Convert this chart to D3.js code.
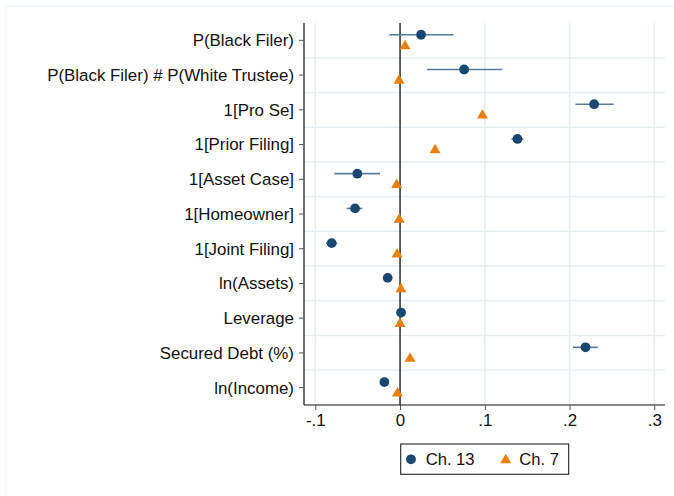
<!DOCTYPE html>
<html>
<head>
<meta charset="utf-8">
<script src="https://cdn.jsdelivr.net/npm/d3@7"></script>
<style>
html,body{margin:0;padding:0;background:#fff;}
svg{display:block;font-family:"Liberation Sans",Arial,sans-serif;}
</style>
</head>
<body>
<svg id="chart" width="674" height="496"></svg>
<script>
const categories = ["P(Black Filer)","P(Black Filer) # P(White Trustee)","1[Pro Se]","1[Prior Filing]","1[Asset Case]","1[Homeowner]","1[Joint Filing]","ln(Assets)","Leverage","Secured Debt (%)","ln(Income)"];
const ch13Est = [0.0248, 0.0756, 0.229, 0.1385, -0.0504, -0.0531, -0.0807, -0.0146, 0.0012, 0.2188, -0.0185];
const ch13Lo  = [-0.0126, 0.0319, 0.207, 0.1315, -0.0776, -0.063, -0.0872, -0.0165, 0.0004, 0.204, -0.0205];
const ch13Hi  = [0.063, 0.1208, 0.252, 0.1455, -0.0236, -0.0445, -0.0742, -0.0127, 0.002, 0.2334, -0.0165];
const ch7Est  = [0.0059, -0.0012, 0.0972, 0.0413, -0.004, -0.001, -0.0035, 0.001, 0.0, 0.0118, -0.0031];
const xTicks = [-0.1, 0, 0.1, 0.2, 0.3];
const xTickLabels = ["-.1", "0", ".1", ".2", ".3"];
const seriesNames = ["Ch. 13", "Ch. 7"];

(function(){
const svg = d3.select("#chart");
const pL = 304, pR = 665, pT = 23, pB = 405;
const navy = "#1a476f", ciCol = "#5579a0", orange = "#e8800a", grid = "#e6eef1";
const fs = 16.9;

// outer frame (light)
svg.append("line").attr("x1",6).attr("x2",674).attr("y1",6).attr("y2",6).attr("stroke","#eef4f6").attr("stroke-width",1.5);
svg.append("line").attr("x1",6).attr("x2",6).attr("y1",6).attr("y2",496).attr("stroke","#eef4f6").attr("stroke-width",1.5);

const x = d3.scaleLinear().domain([-0.1, 0.3]).range([315.3, 654.3]);
const y = d3.scaleBand().domain(categories).range([pT, pB]);

// gridlines
const g = svg.append("g");
g.selectAll(".vg").data(xTicks).join("line")
  .attr("x1", d => x(d)).attr("x2", d => x(d)).attr("y1", pT).attr("y2", pB)
  .attr("stroke", grid).attr("stroke-width", 1.5);
g.selectAll(".hg").data(categories.slice(1)).join("line")
  .attr("x1", pL).attr("x2", pR).attr("y1", d => y(d)).attr("y2", d => y(d))
  .attr("stroke", grid).attr("stroke-width", 1.5);

// zero line
svg.append("line").attr("x1", x(0)).attr("x2", x(0)).attr("y1", pT).attr("y2", pB)
  .attr("stroke", "#222").attr("stroke-width", 1.4);

// axes
const yAxis = d3.axisLeft(y).tickSize(5).tickPadding(5);
const yg = svg.append("g").attr("transform", `translate(${pL},0)`).call(yAxis);
yg.attr("font-size", fs).attr("font-family", '"Liberation Sans", Arial, sans-serif');
yg.select(".domain").attr("d", `M0,${pT}V${pB}`).attr("stroke","#111").attr("stroke-width",1.2);
yg.selectAll(".tick line").attr("stroke","#555");
yg.selectAll(".tick text").style("font-size", fs + "px").attr("fill","#111").attr("dy","0.35em");

const xAxis = d3.axisBottom(x).tickValues(xTicks).tickFormat((d,i) => xTickLabels[i]).tickSize(5).tickPadding(4);
const xg = svg.append("g").attr("transform", `translate(0,${pB})`).call(xAxis);
xg.attr("font-size", fs).attr("font-family", '"Liberation Sans", Arial, sans-serif');
xg.select(".domain").attr("d", `M${pL},0H${pR}`).attr("stroke","#111").attr("stroke-width",1.2);
xg.selectAll(".tick line").attr("stroke","#555");
xg.selectAll(".tick text").style("font-size", fs + "px").attr("fill","#111");

const cy = d => y(d) + y.bandwidth() / 2;
const off = 5.6;

// Ch.13 CIs
svg.append("g").selectAll("line").data(categories).join("line")
  .attr("x1", (d,i) => x(ch13Lo[i])).attr("x2", (d,i) => x(ch13Hi[i]))
  .attr("y1", d => cy(d) - off).attr("y2", d => cy(d) - off)
  .attr("stroke", ciCol).attr("stroke-width", 1.6);
// Ch.13 points
svg.append("g").selectAll("circle").data(categories).join("circle")
  .attr("cx", (d,i) => x(ch13Est[i])).attr("cy", d => cy(d) - off).attr("r", 4.9)
  .attr("fill", navy);
// Ch.7 triangles
const tri = d3.symbol().type(d3.symbolTriangle).size(52);
svg.append("g").selectAll("path").data(categories).join("path")
  .attr("d", tri)
  .attr("transform", (d,i) => `translate(${x(ch7Est[i])},${cy(d) + off})`)
  .attr("fill", orange);

// legend
const lg = svg.append("g");
lg.append("rect").attr("x", 400.7).attr("y", 444).attr("width", 168).attr("height", 30.3)
  .attr("fill", "#fff").attr("stroke", "#222").attr("stroke-width", 1.1);
lg.append("circle").attr("cx", 411).attr("cy", 459.3).attr("r", 4.9).attr("fill", navy);
lg.append("text").attr("x", 425.7).attr("y", 459.3).attr("dy","0.35em").style("font-size", "16.6px").attr("fill","#111").text(seriesNames[0]);
lg.append("path").attr("d", tri).attr("transform", "translate(505.7,460)").attr("fill", orange);
lg.append("text").attr("x", 519.3).attr("y", 459.3).attr("dy","0.35em").style("font-size", "16.6px").attr("fill","#111").text(seriesNames[1]);
})();
</script>
</body>
</html>
